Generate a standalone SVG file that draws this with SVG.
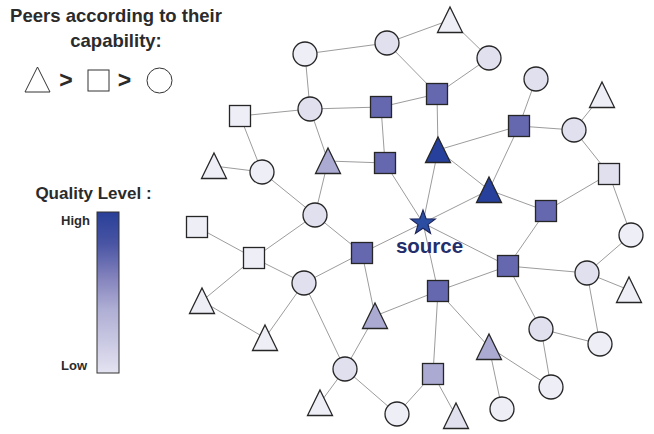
<svg xmlns="http://www.w3.org/2000/svg" xmlns:xlink="http://www.w3.org/1999/xlink" width="654" height="434" viewBox="0 0 654 434">
  <style>
    .title { font-family: "Liberation Sans", Arial, sans-serif; font-weight: bold; fill: #2b2b2b; }
    .lbl { font-family: "Liberation Sans", Arial, sans-serif; font-weight: bold; fill: #2b2b2b; font-size: 13px; }
    .src { font-family: "Liberation Sans", Arial, sans-serif; font-weight: bold; fill: #232e6b; font-size: 20.5px; }
    .edges line { stroke: #9c9c9c; stroke-width: 1; }
    .node use { stroke: #262626; stroke-width: 1.3; }
    .dark { fill: #26409b; }
    .blue { fill: #6567af; }
    .lp { fill: #abaad3; }
    .mid { fill: #e0e0ee; }
    .pale { fill: #eeeef7; }
    .key { fill: #ffffff; stroke: #333333; stroke-width: 1; }
  </style>
  <defs>
    <path id="tri" d="M0,-13 L12.5,12.5 L-12.5,12.5 Z"/>
    <rect id="sq" x="-10.5" y="-10.5" width="21" height="21"/>
    <circle id="dot" cx="0" cy="0" r="12"/>
    <linearGradient id="quality" x1="0" y1="0" x2="0" y2="1">
      <stop offset="0" stop-color="#283f98"/>
      <stop offset="0.2" stop-color="#4a55a4"/>
      <stop offset="0.42" stop-color="#8685be"/>
      <stop offset="0.6" stop-color="#aeadd4"/>
      <stop offset="1" stop-color="#e4e3f1"/>
    </linearGradient>
  </defs>

  <!-- capability legend -->
  <g id="legend-capability">
    <text class="title" x="116" y="22" font-size="18.5" text-anchor="middle">Peers according to their</text>
    <text class="title" x="116" y="47" font-size="18.5" text-anchor="middle">capability:</text>
    <polygon class="key" points="37.5,67 50,92 25,92"/>
    <text class="title" x="66" y="88" font-size="23" text-anchor="middle">&gt;</text>
    <rect class="key" x="88" y="70" width="21" height="21"/>
    <text class="title" x="124.5" y="88" font-size="23" text-anchor="middle">&gt;</text>
    <circle class="key" cx="159.5" cy="80.5" r="12.5"/>
  </g>

  <!-- quality legend -->
  <g id="legend-quality">
    <text class="title" x="93.5" y="199" font-size="17" text-anchor="middle">Quality Level :</text>
    <rect x="97" y="212" width="22" height="161" fill="url(#quality)" stroke="#333333" stroke-width="1"/>
    <text class="lbl" x="90" y="225" text-anchor="end">High</text>
    <text class="lbl" x="87" y="370" text-anchor="end">Low</text>
  </g>

  <!-- connectors -->
  <g id="connectors" class="edges">
    <line x1="305" y1="54" x2="387" y2="43"/>
    <line x1="305" y1="54" x2="310" y2="109"/>
    <line x1="387" y1="43" x2="450" y2="20"/>
    <line x1="387" y1="43" x2="437" y2="94"/>
    <line x1="310" y1="109" x2="240" y2="116"/>
    <line x1="310" y1="109" x2="381" y2="107"/>
    <line x1="310" y1="109" x2="328" y2="161"/>
    <line x1="381" y1="107" x2="437" y2="94"/>
    <line x1="381" y1="107" x2="385" y2="163"/>
    <line x1="240" y1="116" x2="262" y2="172"/>
    <line x1="214" y1="166" x2="262" y2="172"/>
    <line x1="328" y1="161" x2="385" y2="163"/>
    <line x1="262" y1="172" x2="315" y2="215"/>
    <line x1="328" y1="161" x2="315" y2="215"/>
    <line x1="385" y1="163" x2="423" y2="223"/>
    <line x1="450" y1="20" x2="489" y2="58"/>
    <line x1="489" y1="58" x2="437" y2="94"/>
    <line x1="437" y1="94" x2="438" y2="150"/>
    <line x1="536" y1="79" x2="519" y2="126"/>
    <line x1="602" y1="95" x2="574" y2="130"/>
    <line x1="519" y1="126" x2="574" y2="130"/>
    <line x1="519" y1="126" x2="438" y2="150"/>
    <line x1="519" y1="126" x2="489" y2="190"/>
    <line x1="574" y1="130" x2="609" y2="174"/>
    <line x1="438" y1="150" x2="489" y2="190"/>
    <line x1="438" y1="150" x2="423" y2="223"/>
    <line x1="489" y1="190" x2="423" y2="223"/>
    <line x1="489" y1="190" x2="546" y2="211"/>
    <line x1="609" y1="174" x2="546" y2="211"/>
    <line x1="609" y1="174" x2="631" y2="235"/>
    <line x1="546" y1="211" x2="508" y2="266"/>
    <line x1="423" y1="223" x2="362" y2="253"/>
    <line x1="423" y1="223" x2="508" y2="266"/>
    <line x1="423" y1="223" x2="438" y2="291"/>
    <line x1="508" y1="266" x2="587" y2="273"/>
    <line x1="508" y1="266" x2="438" y2="291"/>
    <line x1="508" y1="266" x2="541" y2="329"/>
    <line x1="587" y1="273" x2="631" y2="235"/>
    <line x1="587" y1="273" x2="629" y2="290"/>
    <line x1="587" y1="273" x2="600" y2="344"/>
    <line x1="541" y1="329" x2="600" y2="344"/>
    <line x1="541" y1="329" x2="551" y2="387"/>
    <line x1="438" y1="291" x2="489" y2="347"/>
    <line x1="438" y1="291" x2="433" y2="374"/>
    <line x1="438" y1="291" x2="375" y2="316"/>
    <line x1="489" y1="347" x2="551" y2="387"/>
    <line x1="489" y1="347" x2="502" y2="409"/>
    <line x1="433" y1="374" x2="397" y2="414"/>
    <line x1="433" y1="374" x2="456" y2="416"/>
    <line x1="362" y1="253" x2="375" y2="316"/>
    <line x1="362" y1="253" x2="315" y2="215"/>
    <line x1="362" y1="253" x2="304" y2="283"/>
    <line x1="375" y1="316" x2="345" y2="369"/>
    <line x1="304" y1="283" x2="345" y2="369"/>
    <line x1="345" y1="369" x2="320" y2="403"/>
    <line x1="345" y1="369" x2="397" y2="414"/>
    <line x1="254" y1="258" x2="197" y2="227"/>
    <line x1="254" y1="258" x2="315" y2="215"/>
    <line x1="254" y1="258" x2="304" y2="283"/>
    <line x1="254" y1="258" x2="202" y2="301"/>
    <line x1="202" y1="301" x2="265" y2="338"/>
    <line x1="265" y1="338" x2="304" y2="283"/>
  </g>

  <!-- peers -->
  <g id="peer-a" class="node"><use xlink:href="#dot" x="305" y="54" class="pale"/></g>
  <g id="peer-b" class="node"><use xlink:href="#dot" x="387" y="43" class="mid"/></g>
  <g id="peer-c" class="node"><use xlink:href="#dot" x="310" y="109" class="mid"/></g>
  <g id="peer-d" class="node"><use xlink:href="#sq" x="240" y="116" class="pale"/></g>
  <g id="peer-e" class="node"><use xlink:href="#sq" x="381" y="107" class="blue"/></g>
  <g id="peer-f" class="node"><use xlink:href="#tri" x="214" y="166" class="pale"/></g>
  <g id="peer-g" class="node"><use xlink:href="#dot" x="262" y="172" class="pale"/></g>
  <g id="peer-h" class="node"><use xlink:href="#tri" x="328" y="161" class="lp"/></g>
  <g id="peer-i" class="node"><use xlink:href="#sq" x="385" y="163" class="blue"/></g>
  <g id="peer-j" class="node"><use xlink:href="#tri" x="450" y="20" class="pale"/></g>
  <g id="peer-k" class="node"><use xlink:href="#dot" x="489" y="58" class="mid"/></g>
  <g id="peer-l" class="node"><use xlink:href="#sq" x="437" y="94" class="blue"/></g>
  <g id="peer-m" class="node"><use xlink:href="#dot" x="536" y="79" class="mid"/></g>
  <g id="peer-n" class="node"><use xlink:href="#tri" x="602" y="95" class="pale"/></g>
  <g id="peer-o" class="node"><use xlink:href="#sq" x="519" y="126" class="blue"/></g>
  <g id="peer-p" class="node"><use xlink:href="#dot" x="574" y="130" class="mid"/></g>
  <g id="peer-q" class="node"><use xlink:href="#tri" x="438" y="150" class="dark"/></g>
  <g id="peer-r" class="node"><use xlink:href="#tri" x="489" y="190" class="dark"/></g>
  <g id="peer-s" class="node"><use xlink:href="#sq" x="609" y="174" class="mid"/></g>
  <g id="peer-t" class="node"><use xlink:href="#sq" x="546" y="211" class="blue"/></g>
  <g id="peer-u" class="node"><use xlink:href="#sq" x="197" y="227" class="pale"/></g>
  <g id="peer-v" class="node"><use xlink:href="#dot" x="315" y="215" class="mid"/></g>
  <g id="peer-w" class="node"><use xlink:href="#sq" x="254" y="258" class="pale"/></g>
  <g id="peer-x" class="node"><use xlink:href="#sq" x="362" y="253" class="blue"/></g>
  <g id="peer-y" class="node"><use xlink:href="#dot" x="304" y="283" class="mid"/></g>
  <g id="peer-z" class="node"><use xlink:href="#tri" x="202" y="301" class="pale"/></g>
  <g id="peer-aa" class="node"><use xlink:href="#tri" x="375" y="316" class="lp"/></g>
  <g id="peer-ab" class="node"><use xlink:href="#tri" x="265" y="338" class="pale"/></g>
  <g id="peer-ac" class="node"><use xlink:href="#dot" x="345" y="369" class="mid"/></g>
  <g id="peer-ad" class="node"><use xlink:href="#tri" x="320" y="403" class="pale"/></g>
  <g id="peer-ae" class="node"><use xlink:href="#dot" x="397" y="414" class="pale"/></g>
  <g id="peer-af" class="node"><use xlink:href="#dot" x="631" y="235" class="pale"/></g>
  <g id="peer-ag" class="node"><use xlink:href="#sq" x="508" y="266" class="blue"/></g>
  <g id="peer-ah" class="node"><use xlink:href="#dot" x="587" y="273" class="mid"/></g>
  <g id="peer-ai" class="node"><use xlink:href="#tri" x="629" y="290" class="pale"/></g>
  <g id="peer-aj" class="node"><use xlink:href="#sq" x="438" y="291" class="blue"/></g>
  <g id="peer-ak" class="node"><use xlink:href="#dot" x="541" y="329" class="mid"/></g>
  <g id="peer-al" class="node"><use xlink:href="#tri" x="489" y="347" class="lp"/></g>
  <g id="peer-am" class="node"><use xlink:href="#dot" x="600" y="344" class="pale"/></g>
  <g id="peer-an" class="node"><use xlink:href="#sq" x="433" y="374" class="lp"/></g>
  <g id="peer-ao" class="node"><use xlink:href="#dot" x="551" y="387" class="pale"/></g>
  <g id="peer-ap" class="node"><use xlink:href="#dot" x="502" y="409" class="pale"/></g>
  <g id="peer-aq" class="node"><use xlink:href="#tri" x="456" y="416" class="mid"/></g>

  <!-- source peer -->
  <g id="source">
    <polygon points="423,210 426.1,218.8 435.4,219 428,224.6 430.6,233.5 423,228.2 415.4,233.5 418,224.6 410.6,219 419.9,218.8" fill="#2c4ea2" stroke="#1b2256" stroke-width="1.1"/>
    <text class="src" x="429.5" y="253" text-anchor="middle">source</text>
  </g>
</svg>
